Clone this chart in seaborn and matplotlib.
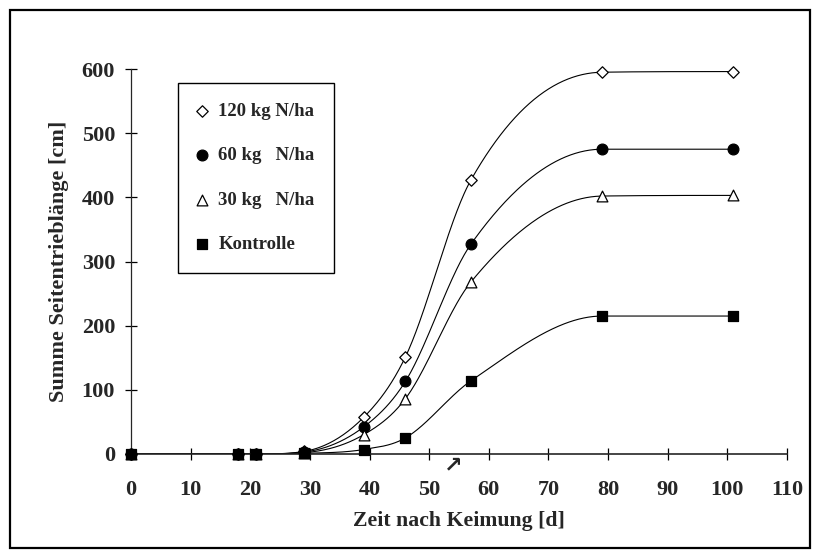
import numpy as np
import pandas as pd
import seaborn as sns
import matplotlib.pyplot as plt
from matplotlib.patches import Rectangle

sns.set_style("ticks")
plt.rcParams['font.family'] = ['Liberation Serif', 'DejaVu Serif']
plt.rcParams['font.weight'] = 'bold'

# Daten
tage = [0, 18, 21, 29, 39, 46, 57, 79, 101]
n120 = [0, 0, 0, 4, 57, 151, 427, 595, 596]
n60 = [0, 0, 0, 3, 42, 113, 327, 475, 475]
n30 = [0, 0, 0, 2, 30, 86, 268, 402, 403]
kontrolle = [0, 0, 0, 1, 7, 25, 114, 215, 215]

labels = ['120 kg N/ha', '60 kg   N/ha', '30 kg   N/ha', 'Kontrolle']
serien = [n120, n60, n30, kontrolle]
marker = ['D', 'o', '^', 's']
fuellung = ['white', 'black', 'white', 'black']
groesse = [34, 60, 60, 48]


def glatt(x, y, n=500):
    # glatte, monotone Kurve durch die Messpunkte (Hermite, Fritsch-Carlson)
    x = np.asarray(x, float)
    y = np.asarray(y, float)
    h = np.diff(x)
    d = np.diff(y) / h
    m = np.zeros_like(y)
    m[0] = d[0]
    m[-1] = d[-1]
    for k in range(1, len(x) - 1):
        if d[k - 1] * d[k] > 0:
            m[k] = (d[k - 1] + d[k]) / 2
    for k in range(len(d)):
        if d[k] == 0:
            m[k] = m[k + 1] = 0
            continue
        a, b = m[k] / d[k], m[k + 1] / d[k]
        if a * a + b * b > 9:
            tau = 3 / np.sqrt(a * a + b * b)
            m[k] = tau * a * d[k]
            m[k + 1] = tau * b * d[k]
    xn = np.linspace(x[0], x[-1], n)
    i = np.clip(np.searchsorted(x, xn) - 1, 0, len(x) - 2)
    t = (xn - x[i]) / h[i]
    h00 = 2 * t**3 - 3 * t**2 + 1
    h10 = t**3 - 2 * t**2 + t
    h01 = -2 * t**3 + 3 * t**2
    h11 = t**3 - t**2
    yn = h00 * y[i] + h10 * h[i] * m[i] + h01 * y[i + 1] + h11 * h[i] * m[i + 1]
    return xn, yn


fig = plt.figure(figsize=(8.21, 5.58), dpi=100)
ax = fig.add_axes([0.15956, 0.18638, 0.79903, 0.68996])

for werte, lab, mk, fc, s in zip(serien, labels, marker, fuellung, groesse):
    xs, ys = glatt(tage, werte)
    sns.lineplot(x=xs, y=ys, color='black', linewidth=0.8, ax=ax, sort=False)
    sns.scatterplot(x=tage, y=werte, marker=mk, s=s, color=fc, edgecolor='black',
                    linewidth=0.9, label=lab, ax=ax, zorder=5, clip_on=False)

ax.set_xlim(0, 110)
ax.set_ylim(0, 600)
ax.set_xticks(range(0, 111, 10))
ax.set_yticks(range(0, 601, 100))
sns.despine(ax=ax)
ax.spines['left'].set_linewidth(0.9)
ax.spines['bottom'].set_linewidth(1.2)
ax.tick_params(direction='inout', length=9, width=0.9, labelsize=16, color='black')
ax.tick_params(axis='x', pad=14)
ax.tick_params(axis='y', pad=7)
for t in ax.get_xticklabels() + ax.get_yticklabels():
    t.set_fontweight('bold')

ax.set_xlabel('Zeit nach Keimung [d]', fontsize=15.7, fontweight='bold', labelpad=8)
ax.set_ylabel('Summe Seitentrieblänge [cm]', fontsize=16, fontweight='bold', labelpad=9)

ax.text(54, -17, '↗', fontsize=16, fontweight='bold', ha='center', va='center',
        family=['DejaVu Sans'], clip_on=False)

leg = ax.legend(loc='upper left', bbox_to_anchor=(0.0716, 0.9636), fontsize=13.5,
                frameon=True, fancybox=False, edgecolor='black', framealpha=1,
                labelspacing=1.46, handletextpad=0.6, borderpad=1.05,
                borderaxespad=0, handlelength=0.5)
leg.get_frame().set_linewidth(1.0)
for t in leg.get_texts():
    t.set_fontweight('bold')

fig.patches.append(Rectangle((0.012, 0.018), 0.975, 0.964, transform=fig.transFigure,
                             fill=False, edgecolor='black', linewidth=1.6))

fig.savefig('out.png', dpi=100)
